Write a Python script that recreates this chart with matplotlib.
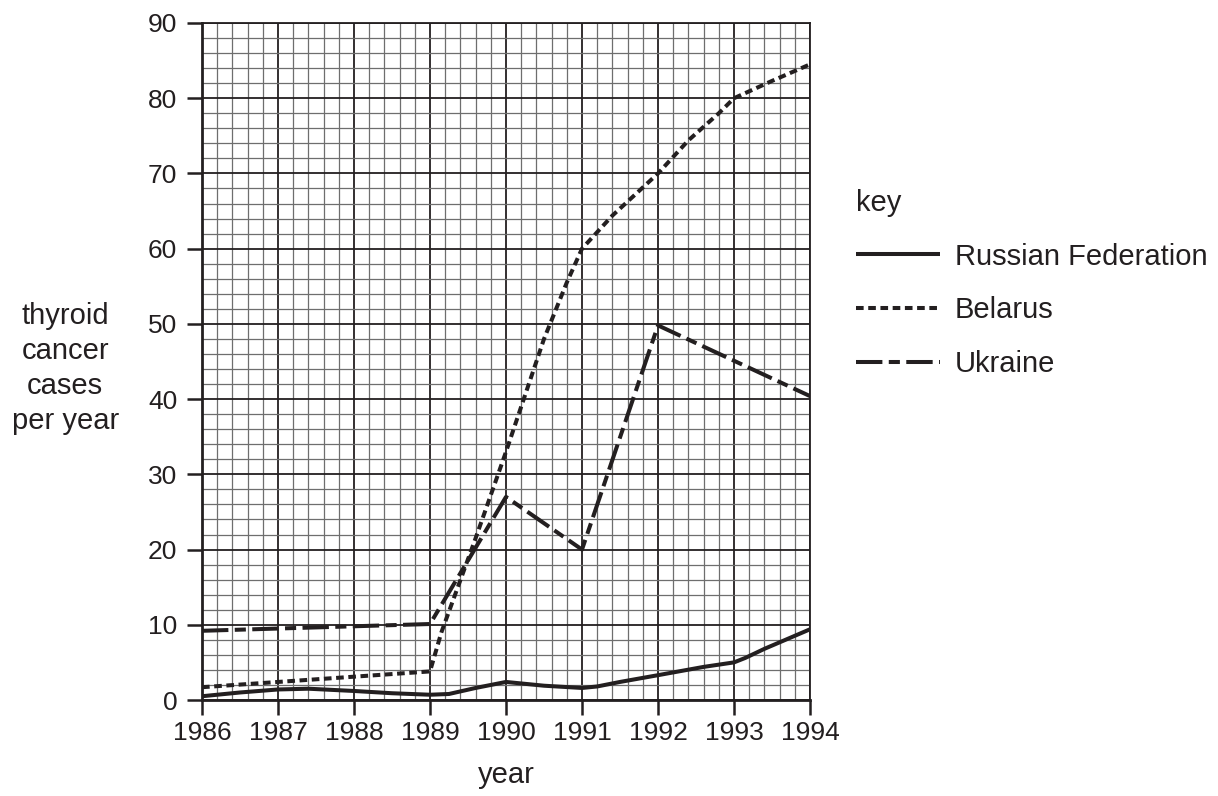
import matplotlib.pyplot as plt
from matplotlib.ticker import MultipleLocator

# data
rf_years = [1986, 1986.5, 1987, 1987.4, 1988, 1988.5, 1989, 1989.25, 1989.6, 1990,
            1990.5, 1991, 1991.2, 1991.5, 1992, 1992.6, 1993, 1993.15, 1993.4, 1994]
rf_cases = [0.5, 1.0, 1.4, 1.5, 1.2, 0.9, 0.7, 0.8, 1.6, 2.4,
            1.9, 1.6, 1.8, 2.4, 3.3, 4.4, 5.0, 5.6, 6.8, 9.4]

belarus_years = [1986, 1987, 1988, 1989, 1989.15, 1989.6, 1990, 1990.5, 1990.8, 1991,
                 1991.4, 1992, 1992.4, 1992.8, 1993, 1993.5, 1994]
belarus_cases = [1.7, 2.4, 3.1, 3.8, 9, 21.5, 33, 48, 55.5, 60,
                 64.4, 70, 74.4, 78, 80, 82.3, 84.5]

ukraine_years = [1986, 1989, 1990, 1991, 1992, 1994]
ukraine_cases = [9.2, 10.1, 27, 20, 49.8, 40.4]

ink = "#231f20"
plt.rcParams["font.family"] = ["Liberation Sans", "DejaVu Sans"]
plt.rcParams["lines.scale_dashes"] = False

fig = plt.figure(figsize=(12.18, 7.96), dpi=100)
ax = fig.add_axes([202 / 1218, 1 - 700 / 796, 608 / 1218, 677 / 796])

ax.plot(rf_years, rf_cases, color=ink, lw=2.9, solid_capstyle="butt",
        label="Russian Federation")
ax.plot(belarus_years, belarus_cases, color=ink, lw=2.9,
        dashes=(5.5, 3.3), label="Belarus")
ax.plot(ukraine_years, ukraine_cases, color=ink, lw=2.9,
        dashes=(19, 4.6, 8, 4.6), label="Ukraine")

ax.set_xlim(1986, 1994)
ax.set_ylim(0, 90)
ax.xaxis.set_major_locator(MultipleLocator(1))
ax.xaxis.set_minor_locator(MultipleLocator(0.2))
ax.yaxis.set_major_locator(MultipleLocator(10))
ax.yaxis.set_minor_locator(MultipleLocator(2))
ax.xaxis.set_major_formatter(plt.FuncFormatter(lambda v, p: f"{int(round(v))}"))

# graph-paper grid
ax.grid(which="minor", color="#6e6e6e", lw=0.9)
ax.grid(which="major", color=ink, lw=1.3)
ax.set_axisbelow(True)

for side in ["left", "bottom"]:
    ax.spines[side].set_linewidth(2)
    ax.spines[side].set_color(ink)
for side in ["top", "right"]:
    ax.spines[side].set_linewidth(1.3)
    ax.spines[side].set_color(ink)

ax.tick_params(which="major", length=10.8, width=1.8, color=ink, labelsize=19,
               labelcolor=ink)
ax.tick_params(axis="x", pad=4)
ax.tick_params(axis="y", pad=7)
ax.tick_params(which="minor", length=0)

ax.set_xlabel("year", fontsize=21, color=ink, labelpad=12)
ax.set_ylabel("thyroid\ncancer\ncases\nper year", fontsize=21, color=ink,
              rotation=0, ha="center", va="center", linespacing=1.32)
ax.yaxis.set_label_coords(-0.225, 0.49)

leg = fig.legend(loc="upper left", bbox_to_anchor=(856 / 1218, 1 - 189 / 796),
                 frameon=False, title="key", alignment="left", fontsize=21,
                 title_fontsize=21, handlelength=2.88, handletextpad=0.51,
                 labelspacing=0.88, borderaxespad=0, borderpad=0)
for t in leg.get_texts():
    t.set_color(ink)
leg.get_title().set_color(ink)

fig.savefig("out.png", dpi=100)
